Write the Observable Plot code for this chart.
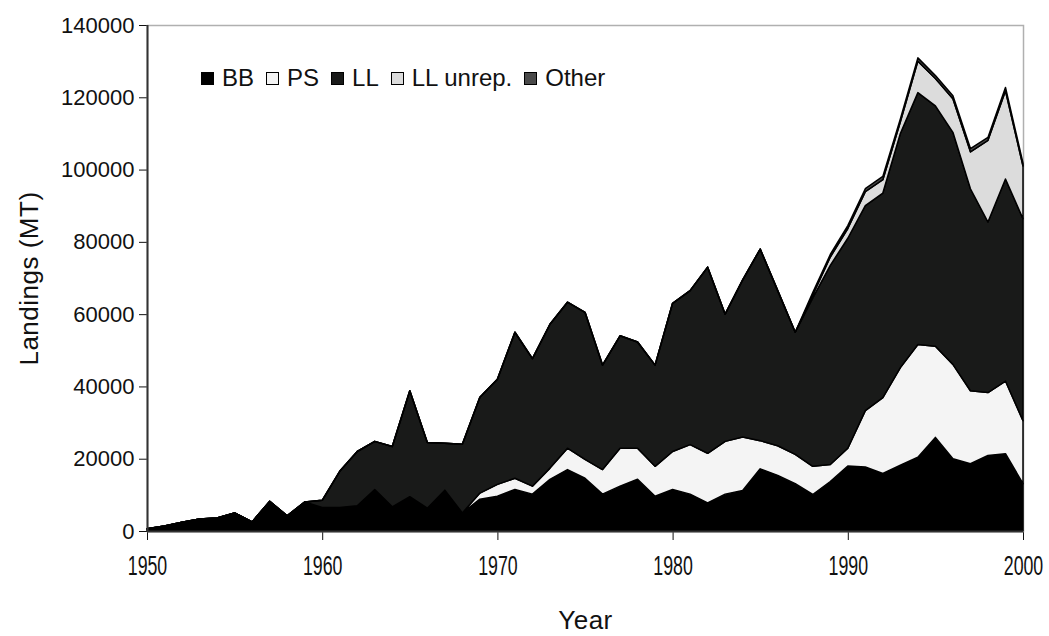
<!DOCTYPE html>
<html>
<head>
<meta charset="utf-8">
<script src="https://cdn.jsdelivr.net/npm/d3@7"></script>
<script src="https://cdn.jsdelivr.net/npm/@observablehq/plot@0.6"></script>
<style>
  body { margin: 0; background: #fff; }
  #chart { position: relative; width: 1049px; height: 636px; }
  .legend {
    position: absolute; left: 201px; top: 64px;
    display: flex; align-items: center;
    font-family: "Liberation Sans", sans-serif;
    font-size: 24px; color: #111;
  }
  .legend .item { display: flex; align-items: center; margin-right: 12px; }
  .legend .sw { display: inline-block; width: 11px; height: 11px; border: 1.5px solid #000; margin-right: 8px; }
</style>
</head>
<body>
<div id="chart"></div>
<script>
// Annual landings (metric tonnes) by gear, 1950–2000
const years = [1950,1951,1952,1953,1954,1955,1956,1957,1958,1959,
  1960,1961,1962,1963,1964,1965,1966,1967,1968,1969,
  1970,1971,1972,1973,1974,1975,1976,1977,1978,1979,
  1980,1981,1982,1983,1984,1985,1986,1987,1988,1989,
  1990,1991,1992,1993,1994,1995,1996,1997,1998,1999,2000];

const bb = [600,1400,2400,3300,3600,5000,2500,8200,4200,8000,
  6500,6500,7000,11500,6700,9500,6300,11300,5000,8800,
  9600,11500,10200,14300,17000,14600,10200,12400,14300,9600,
  11500,10200,7800,10200,11200,17200,15400,13100,10100,13700,
  18000,17700,15900,18200,20400,25900,20000,18600,20900,21400,13100];

const ps = [0,0,0,0,0,0,0,0,0,0,
  0,0,0,0,0,0,0,0,0,1700,
  3300,3100,2200,3100,5900,5200,6800,10500,8600,8300,
  10500,13700,13700,14600,14800,7800,8200,8100,7800,4700,
  4900,15600,21000,27000,31200,25200,26100,20200,17400,20100,17400];

const ll = [0,0,0,0,0,0,0,0,0,0,
  2000,10000,15000,13300,16700,29300,18200,13000,19000,26500,
  29100,40400,35300,39800,40400,40700,28900,31100,29400,28000,
  41000,42600,51500,35200,43500,53000,42900,33800,46600,55100,
  58100,56700,56600,64800,69700,66500,64200,55900,47200,55900,55900];

const llUnrep = [0,0,0,0,0,0,0,0,0,0,
  0,0,0,0,0,0,0,0,0,0,
  0,0,0,0,0,0,0,0,0,0,
  0,0,0,0,0,0,0,0,800,2300,
  2700,3900,3700,3200,8700,7600,9300,10200,22600,24400,14600];

const other = [0,0,0,0,0,0,0,0,0,0,
  0,0,0,0,0,0,0,0,0,0,
  0,0,0,0,0,0,0,0,0,0,
  0,0,0,0,0,0,0,0,700,700,
  800,800,900,800,900,800,800,900,800,900,800];

const seriesNames = ["BB", "PS", "LL", "LL unrep.", "Other"];
const seriesColors = ["#000000", "#f4f4f4", "#191a19", "#dcdcdc", "#4a4a4a"];
const xTicks = [1950, 1960, 1970, 1980, 1990, 2000];
const yTicks = [0, 20000, 40000, 60000, 80000, 100000, 120000, 140000];

// Long-format table, series in stacking order (bottom to top)
const seriesValues = [bb, ps, ll, llUnrep, other];
const table = [];
seriesNames.forEach((name, i) => {
  years.forEach((yr, j) => table.push({year: yr, series: name, value: seriesValues[i][j]}));
});

const font = '"Liberation Sans", sans-serif';

const chart = Plot.plot({
  width: 1049,
  height: 636,
  marginLeft: 147,
  marginRight: 26,
  marginTop: 25,
  marginBottom: 105,
  style: {fontFamily: font, fontSize: "22px", color: "#111", background: "#fff"},
  x: {
    domain: [1950, 2000],
    ticks: xTicks,
    tickFormat: d => String(d),
    tickSize: 9,
    tickPadding: 15,
    label: "Year",
    labelAnchor: "center",
    labelArrow: "none",
    labelOffset: 97
  },
  y: {
    domain: [0, 140000],
    ticks: yTicks,
    tickFormat: d => String(d),
    tickSize: 8,
    tickPadding: 5,
    label: "Landings (MT)",
    labelAnchor: "center",
    labelArrow: "none",
    labelOffset: 128
  },
  color: {domain: seriesNames, range: seriesColors},
  marks: [
    Plot.frame({stroke: "#b0b0b0", strokeWidth: 1.5}),
    Plot.areaY(table, {
      x: "year", y: "value", z: "series", fill: "series",
      stroke: "#000", strokeWidth: 1.5, strokeLinejoin: "round"
    }),
    Plot.ruleY([0], {stroke: "#333", strokeWidth: 2}),
    Plot.ruleX([1950], {stroke: "#333", strokeWidth: 2})
  ]
});

// Axis label styling
d3.select(chart).selectAll("[aria-label='x-axis label'] text, [aria-label='y-axis label'] text")
  .style("font-size", "26px").style("letter-spacing", "0.5px").attr("fill", "#111");

// Year labels are set in a tall, narrow face
d3.select(chart).selectAll("[aria-label='x-axis tick label'] text")
  .style("font-size", "24px")
  .attr("transform", function() {
    return (this.getAttribute("transform") || "") + " scale(0.74,1.15)";
  });

const holder = document.getElementById("chart");
holder.appendChild(chart);

// Legend row drawn inside the plot area
const legend = document.createElement("div");
legend.className = "legend";
seriesNames.forEach((name, i) => {
  const item = document.createElement("div");
  item.className = "item";
  const sw = document.createElement("span");
  sw.className = "sw";
  sw.style.background = seriesColors[i];
  item.appendChild(sw);
  const label = document.createElement("span");
  label.textContent = name;
  item.appendChild(label);
  legend.appendChild(item);
});
holder.appendChild(legend);
</script>
</body>
</html>
